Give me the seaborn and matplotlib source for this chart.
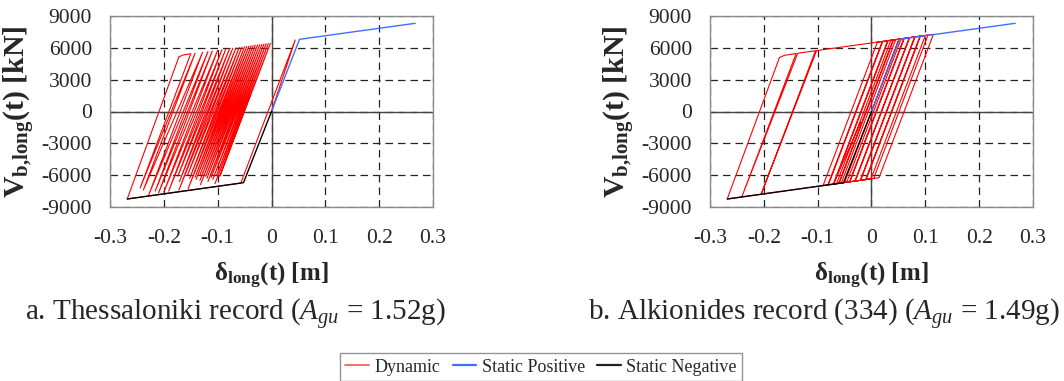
import matplotlib
matplotlib.use("Agg")
import matplotlib.pyplot as plt
import seaborn as sns
import pandas as pd
from matplotlib.lines import Line2D

# ---------------- data ----------------
# Static pushover curves (same in both panels)
static_pos_x = [0.000, 0.052, 0.267]
static_pos_y = [0, 6804, 8312]
static_neg_x = [0.000, -0.052, -0.268]
static_neg_y = [0, -6710, -8246]

# Dynamic hysteresis, Thessaloniki record (vertices of the loops)
thess_x = [0.000, 0.044, -0.057, -0.268, -0.172, -0.164, -0.150,
           -0.244, -0.142, -0.238, -0.128, -0.228, -0.118, -0.216, -0.110,
           -0.210, -0.100, -0.200, -0.092, -0.191, -0.085, -0.174, -0.078,
           -0.171, -0.072, -0.172, -0.066, -0.156, -0.060, -0.152, -0.055,
           -0.155, -0.050, -0.142, -0.046, -0.140, -0.042, -0.133, -0.038,
           -0.133, -0.034, -0.132, -0.030, -0.122, -0.026, -0.120, -0.022,
           -0.118, -0.018, -0.112, -0.014, -0.109, -0.010, -0.102, -0.006,
           -0.105, -0.002, -0.096, -0.040]
thess_y = [0, 6738, -6742, -8246, 5150, 5330, 5438,
           -7200, 5492, -7400, 5585, -7850, 5652, -7500, 5706,
           -7700, 5773, -7600, 5827, -7500, 5873, -6100, 5920,
           -6600, 5961, -7400, 6001, -6000, 6041, -6300, 6075,
           -7300, 6108, -6200, 6135, -6400, 6162, -6000, 6188,
           -6500, 6215, -6900, 6242, -6100, 6269, -6300, 6296,
           -6600, 6322, -6200, 6349, -6400, 6376, -6000, 6403,
           -6800, 6430, -6100, 1500]

# Dynamic hysteresis, Alkionides record (334)
alk_x = [0.000, 0.051, 0.060, -0.041, -0.268, -0.171, -0.162, -0.140,
         -0.241, -0.137, -0.104, -0.205, -0.102,
         0.020, -0.081, -0.090, 0.011, 0.045, -0.056, -0.060, 0.041,
         0.070, -0.031, -0.040, 0.061, 0.090, -0.011, -0.020, 0.081,
         0.115, 0.014, -0.030, 0.071, 0.080, -0.021, -0.070, 0.031,
         0.055, -0.046, -0.050, 0.051, 0.100, -0.001, -0.010, 0.091,
         0.105, 0.004, -0.065, 0.036, 0.040, -0.061, -0.080, 0.021,
         0.030, -0.071, -0.020]
alk_y = [0, 6822, 6885, -6632, -8246, 5080, 5290, 5471,
         -8054, 5492, 5726, -7798, 5740,
         6602, -6916, -6980, 6539, 6779, -6738, -6767, 6751,
         6956, -6560, -6624, 6892, 7097, -6418, -6482, 7034,
         7274, -6240, -6553, 6963, 7027, -6489, -6838, 6680,
         6850, -6667, -6696, 6822, 7168, -6347, -6411, 7104,
         7203, -6312, -6802, 6716, 6744, -6774, -6909, 6609,
         6673, -6845, -1000]

x_ticks = [-0.3, -0.2, -0.1, 0, 0.1, 0.2, 0.3]
x_tick_labels = ["-0.3", "-0.2", "-0.1", "0", "0.1", "0.2", "0.3"]
y_ticks = [-9000, -6000, -3000, 0, 3000, 6000, 9000]
y_tick_labels = ["-9000", "-6000", "-3000", "0", "3000", "6000", "9000"]

captions = [r"a. Thessaloniki record ($A_{gu}$ = 1.52g)",
            r"b. Alkionides record (334) ($A_{gu}$ = 1.49g)"]
series_names = ["Dynamic", "Static Positive", "Static Negative"]

# ---------------- style ----------------
sns.set_theme(style="white")
plt.rcParams["font.family"] = ["Liberation Serif", "DejaVu Serif"]
plt.rcParams["mathtext.fontset"] = "custom"
plt.rcParams["mathtext.rm"] = "Liberation Serif"
plt.rcParams["mathtext.it"] = "Liberation Serif:italic"
plt.rcParams["mathtext.bf"] = "Liberation Serif:bold"
plt.rcParams["axes.unicode_minus"] = False

RED = "#ff0000"
BLUE = "#3f6fff"
BLACK = "#000000"

fig = plt.figure(figsize=(10.64, 3.81), dpi=100)
W, H = 1064, 381
ax_w, ax_h = 323 / W, 191 / H
bottom = 1 - 207 / H
axes = [fig.add_axes([110 / W, bottom, ax_w, ax_h]),
        fig.add_axes([710 / W, bottom, ax_w, ax_h])]

dyn = [(thess_x, thess_y), (alk_x, alk_y)]
for ax, (dx, dy) in zip(axes, dyn):
    ax.set_facecolor("white")
    sns.lineplot(x=dx, y=dy, ax=ax, sort=False, estimator=None,
                 color=RED, lw=0.8, zorder=3)
    sns.lineplot(x=static_pos_x, y=static_pos_y, ax=ax, sort=False,
                 estimator=None, color=BLUE, lw=1.0, zorder=4)
    sns.lineplot(x=static_neg_x, y=static_neg_y, ax=ax, sort=False,
                 estimator=None, color=BLACK, lw=1.0, zorder=5)
    ax.set_xlim(-0.3, 0.3)
    ax.set_ylim(-9000, 9000)
    ax.set_xticks(x_ticks)
    ax.set_xticklabels(x_tick_labels)
    ax.set_yticks(y_ticks)
    ax.set_yticklabels(y_tick_labels)
    ax.tick_params(axis="x", length=0, pad=16, labelsize=15.5)
    ax.tick_params(axis="y", length=0, pad=13, labelsize=15.5)
    ax.grid(True, color="#222222", lw=0.9, ls=(0, (6, 4)), zorder=1)
    ax.axhline(0, color="#444444", lw=1.0, zorder=2)
    ax.axvline(0, color="#444444", lw=1.0, zorder=2)
    for s in ax.spines.values():
        s.set_color("#8a8a8a")
        s.set_linewidth(1.0)
    ax.set_xlabel(r"$\mathbf{\delta_{long}(t)\ [m]}$", fontsize=18, labelpad=9)
    ax.set_ylabel(r"$\mathbf{V_{b{,}long}(t)\ [kN]}$", fontsize=21.5, labelpad=3)

fig.text(235 / W, 1 - 314 / H, captions[0], ha="center", va="center", fontsize=21)
fig.text(824 / W, 1 - 314 / H, captions[1], ha="center", va="center", fontsize=21)

handles = [Line2D([], [], color="#ff5050", lw=1.2),
           Line2D([], [], color=BLUE, lw=1.6),
           Line2D([], [], color="#222222", lw=1.6)]
leg = fig.legend(handles, series_names, loc="lower center",
                 bbox_to_anchor=(541 / W, 0.0), ncol=3, fontsize=13,
                 frameon=True, fancybox=False, edgecolor="#7a7a7a",
                 handlelength=1.3, handletextpad=0.3, columnspacing=0.7,
                 borderpad=0.3, borderaxespad=0.0)
leg.get_frame().set_linewidth(1.0)

fig.savefig("out.png", dpi=100)
